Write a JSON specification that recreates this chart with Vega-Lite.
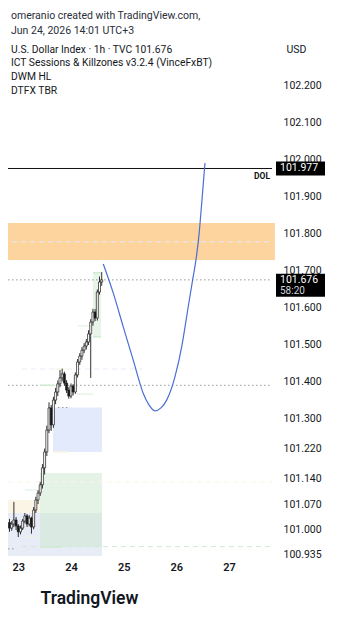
{
  "$schema": "https://vega.github.io/schema/vega-lite/v6.json",
  "width": 264,
  "height": 518,
  "autosize": {"type": "none"},
  "padding": {"left": 8, "top": 38, "right": 66, "bottom": 69},
  "background": "white",
  "config": {"view": {"stroke": null}, "font": "Roboto", "axis": {"labelOverlap": false, "labelBound": false}},
  "title": {
    "text": ["omeranio created with TradingView.com,", "Jun 24, 2026 14:01 UTC+3"],
    "subtitle": ["U.S. Dollar Index · 1h · TVC  101.676", "ICT Sessions & Killzones v3.2.4 (VinceFxBT)", "DWM HL", "DTFX TBR"],
    "anchor": "start",
    "frame": "group",
    "orient": "top",
    "offset": -58,
    "dx": 3,
    "fontSize": 10.5,
    "fontWeight": "normal",
    "color": "#2a2e39",
    "lineHeight": 15,
    "subtitleFontSize": 10.3,
    "subtitleColor": "#131722",
    "subtitleLineHeight": 13.7,
    "subtitlePadding": 8
  },
  "datasets": {
    "candles": [
      {"t": 22.8333, "o": 101.020, "h": 101.030, "l": 100.995, "c": 101.005},
      {"t": 22.8750, "o": 101.005, "h": 101.024, "l": 100.998, "c": 101.016},
      {"t": 22.9167, "o": 101.016, "h": 101.076, "l": 101.008, "c": 101.027},
      {"t": 22.9583, "o": 101.027, "h": 101.035, "l": 101.000, "c": 101.011},
      {"t": 23.0000, "o": 101.011, "h": 101.016, "l": 100.981, "c": 100.995},
      {"t": 23.0417, "o": 100.995, "h": 101.012, "l": 100.988, "c": 101.005},
      {"t": 23.0833, "o": 101.005, "h": 101.030, "l": 101.000, "c": 101.024},
      {"t": 23.1250, "o": 101.024, "h": 101.046, "l": 101.018, "c": 101.038},
      {"t": 23.1667, "o": 101.038, "h": 101.043, "l": 101.008, "c": 101.016},
      {"t": 23.2083, "o": 101.016, "h": 101.040, "l": 101.010, "c": 101.032},
      {"t": 23.2500, "o": 101.032, "h": 101.036, "l": 100.990, "c": 101.008},
      {"t": 23.2917, "o": 101.008, "h": 101.062, "l": 101.002, "c": 101.054},
      {"t": 23.3333, "o": 101.054, "h": 101.090, "l": 101.046, "c": 101.081},
      {"t": 23.3750, "o": 101.081, "h": 101.108, "l": 101.070, "c": 101.100},
      {"t": 23.4167, "o": 101.100, "h": 101.130, "l": 101.092, "c": 101.122},
      {"t": 23.4583, "o": 101.122, "h": 101.178, "l": 101.112, "c": 101.168},
      {"t": 23.5000, "o": 101.168, "h": 101.220, "l": 101.150, "c": 101.211},
      {"t": 23.5417, "o": 101.211, "h": 101.282, "l": 101.200, "c": 101.270},
      {"t": 23.5833, "o": 101.270, "h": 101.345, "l": 101.262, "c": 101.330},
      {"t": 23.6250, "o": 101.330, "h": 101.338, "l": 101.268, "c": 101.284},
      {"t": 23.6667, "o": 101.284, "h": 101.360, "l": 101.276, "c": 101.351},
      {"t": 23.7083, "o": 101.351, "h": 101.384, "l": 101.340, "c": 101.373},
      {"t": 23.7500, "o": 101.373, "h": 101.404, "l": 101.362, "c": 101.395},
      {"t": 23.7917, "o": 101.395, "h": 101.432, "l": 101.386, "c": 101.411},
      {"t": 23.8333, "o": 101.411, "h": 101.436, "l": 101.402, "c": 101.422},
      {"t": 23.8750, "o": 101.422, "h": 101.428, "l": 101.390, "c": 101.397},
      {"t": 23.9167, "o": 101.397, "h": 101.405, "l": 101.370, "c": 101.378},
      {"t": 23.9583, "o": 101.378, "h": 101.386, "l": 101.355, "c": 101.362},
      {"t": 24.0000, "o": 101.362, "h": 101.396, "l": 101.356, "c": 101.389},
      {"t": 24.0417, "o": 101.389, "h": 101.394, "l": 101.364, "c": 101.373},
      {"t": 24.0833, "o": 101.373, "h": 101.426, "l": 101.368, "c": 101.419},
      {"t": 24.1250, "o": 101.419, "h": 101.462, "l": 101.412, "c": 101.454},
      {"t": 24.1667, "o": 101.454, "h": 101.478, "l": 101.446, "c": 101.470},
      {"t": 24.2083, "o": 101.470, "h": 101.494, "l": 101.460, "c": 101.486},
      {"t": 24.2500, "o": 101.486, "h": 101.505, "l": 101.478, "c": 101.497},
      {"t": 24.2917, "o": 101.497, "h": 101.516, "l": 101.488, "c": 101.508},
      {"t": 24.3333, "o": 101.508, "h": 101.540, "l": 101.500, "c": 101.530},
      {"t": 24.3750, "o": 101.530, "h": 101.570, "l": 101.411, "c": 101.562},
      {"t": 24.4167, "o": 101.562, "h": 101.598, "l": 101.552, "c": 101.589},
      {"t": 24.4583, "o": 101.589, "h": 101.597, "l": 101.565, "c": 101.573},
      {"t": 24.5000, "o": 101.573, "h": 101.650, "l": 101.566, "c": 101.643},
      {"t": 24.5417, "o": 101.643, "h": 101.685, "l": 101.636, "c": 101.670},
      {"t": 24.5833, "o": 101.670, "h": 101.697, "l": 101.660, "c": 101.676}
    ],
    "zones": [
      {"x1": 22.805, "x2": 24.588, "p1": 100.930, "p2": 101.046, "kind": "asia"},
      {"x1": 22.805, "x2": 23.412, "p1": 101.046, "p2": 101.081, "kind": "cream"},
      {"x1": 23.412, "x2": 24.588, "p1": 100.954, "p2": 101.154, "kind": "ob"},
      {"x1": 23.658, "x2": 24.588, "p1": 101.211, "p2": 101.331, "kind": "fvg"},
      {"x1": 24.417, "x2": 24.569, "p1": 101.522, "p2": 101.695, "kind": "tbr"},
      {"x1": 22.805, "x2": 27.870, "p1": 101.730, "p2": 101.830, "kind": "dol"}
    ],
    "dotted": [
      {"x1": 22.805, "x2": 27.815, "p": 101.676},
      {"x1": 22.805, "x2": 27.815, "p": 101.391},
      {"x1": 22.805, "x2": 22.950, "p": 100.949},
      {"x1": 23.753, "x2": 23.981, "p": 101.331}
    ],
    "dashed": [
      {"x1": 23.070, "x2": 25.347, "p": 101.435, "kind": "grey"},
      {"x1": 22.805, "x2": 27.815, "p": 101.130, "kind": "purple"},
      {"x1": 23.070, "x2": 27.815, "p": 100.955, "kind": "green"},
      {"x1": 22.880, "x2": 27.815, "p": 101.779, "kind": "black"}
    ],
    "solid": [
      {"x1": 22.805, "x2": 22.937, "p": 101.078, "kind": "purple"},
      {"x1": 23.127, "x2": 23.355, "p": 101.108, "kind": "orange"},
      {"x1": 23.127, "x2": 23.355, "p": 100.982, "kind": "orange"},
      {"x1": 23.412, "x2": 23.829, "p": 100.954, "kind": "green"},
      {"x1": 23.412, "x2": 23.696, "p": 101.391, "kind": "green"},
      {"x1": 23.696, "x2": 23.943, "p": 101.435, "kind": "purple"},
      {"x1": 23.658, "x2": 23.943, "p": 101.211, "kind": "purple"},
      {"x1": 24.114, "x2": 24.417, "p": 101.367, "kind": "orange"},
      {"x1": 24.133, "x2": 24.398, "p": 101.552, "kind": "orange"},
      {"x1": 24.417, "x2": 24.569, "p": 101.522, "kind": "green"},
      {"x1": 24.417, "x2": 24.569, "p": 101.695, "kind": "green"}
    ],
    "curve": [
      {"t": 24.613, "p": 101.719},
      {"t": 24.803, "p": 101.640},
      {"t": 24.992, "p": 101.549},
      {"t": 25.182, "p": 101.459},
      {"t": 25.372, "p": 101.369},
      {"t": 25.480, "p": 101.338},
      {"t": 25.594, "p": 101.322},
      {"t": 25.708, "p": 101.330},
      {"t": 25.816, "p": 101.351},
      {"t": 25.973, "p": 101.414},
      {"t": 26.101, "p": 101.495},
      {"t": 26.226, "p": 101.604},
      {"t": 26.309, "p": 101.676},
      {"t": 26.372, "p": 101.730},
      {"t": 26.429, "p": 101.797},
      {"t": 26.486, "p": 101.892},
      {"t": 26.543, "p": 101.992}
    ]
  },
  "layer": [
    {
      "data": {"name": "zones"},
      "mark": {"type": "rect", "clip": false},
      "encoding": {
        "x": {"field": "x1", "type": "quantitative", "scale": {"domain": [22.805, 27.815], "nice": false, "zero": false, "padding": 0},
          "axis": {"values": [23, 24, 25, 26, 27], "tickCount": 10, "format": "d", "title": "TradingView", "domain": false, "ticks": false, "grid": false,
            "labelFlush": false, "labelPadding": 5, "labelFontSize": 11, "labelFontWeight": 600, "labelColor": "#131722",
            "titleAnchor": "start", "titleAlign": "left", "titleX": 32, "titleY": 42, "titleBaseline": "middle",
            "titleFontSize": 17.5, "titleFontWeight": 600, "titleColor": "#131722"}},
        "x2": {"field": "x2"},
        "y": {"field": "p1", "type": "quantitative", "scale": {"domain": [100.9297, 102.3297], "nice": false, "zero": false, "padding": 0},
          "axis": {"orient": "right", "values": [100.935, 101.0, 101.07, 101.14, 101.22, 101.3, 101.4, 101.5, 101.6, 101.7, 101.8, 101.9, 102.0, 102.1, 102.2],
            "tickCount": 30, "format": ".3f", "domain": false, "ticks": false, "grid": false, "labelFlush": false, "labelOverlap": false, "labelBound": false,
            "labelPadding": 11, "labelFontSize": 10.5, "labelColor": "#131722",
            "title": "USD", "titleAngle": 0, "titleAlign": "left", "titleBaseline": "middle", "titleX": 14, "titleY": 11,
            "titleFontSize": 10.5, "titleFontWeight": "normal", "titleColor": "#131722"}},
        "y2": {"field": "p2"},
        "color": {"field": "kind", "type": "nominal", "legend": null,
          "scale": {"domain": ["asia", "cream", "ob", "fvg", "tbr", "dol"], "range": ["#e7ecf7", "#fbf5e6", "#cfead2", "#e2eafb", "#e6f5e7", "#fdd49e"]}},
        "opacity": {"condition": {"test": "datum.kind == 'ob'", "value": 0.55}, "value": 1}
      }
    },
    {
      "data": {"name": "dotted"},
      "mark": {"type": "rule", "strokeDash": [1.5, 2.5], "strokeWidth": 1, "color": "#9598a1"},
      "encoding": {
        "x": {"field": "x1", "type": "quantitative", "scale": {"domain": [22.805, 27.815], "nice": false, "zero": false, "padding": 0}},
        "x2": {"field": "x2"},
        "y": {"field": "p", "type": "quantitative", "scale": {"domain": [100.9297, 102.3297], "nice": false, "zero": false, "padding": 0}}
      }
    },
    {
      "data": {"name": "dashed"},
      "mark": {"type": "rule", "strokeDash": [5, 4], "strokeWidth": 1},
      "encoding": {
        "x": {"field": "x1", "type": "quantitative", "scale": {"domain": [22.805, 27.815], "nice": false, "zero": false, "padding": 0}},
        "x2": {"field": "x2"},
        "y": {"field": "p", "type": "quantitative", "scale": {"domain": [100.9297, 102.3297], "nice": false, "zero": false, "padding": 0}},
        "color": {"field": "kind", "type": "nominal", "legend": null,
          "scale": {"domain": ["grey", "purple", "green", "black"], "range": ["#8a8d94", "#7473d6", "#7fa8a0", "#111111"]}}
      }
    },
    {
      "data": {"name": "solid"},
      "mark": {"type": "rule", "strokeWidth": 1.5},
      "encoding": {
        "x": {"field": "x1", "type": "quantitative", "scale": {"domain": [22.805, 27.815], "nice": false, "zero": false, "padding": 0}},
        "x2": {"field": "x2"},
        "y": {"field": "p", "type": "quantitative", "scale": {"domain": [100.9297, 102.3297], "nice": false, "zero": false, "padding": 0}},
        "color": {"field": "kind", "type": "nominal", "legend": null,
          "scale": {"domain": ["purple", "orange", "green"], "range": ["#9c3bbd", "#f0b94e", "#3db574"]}}
      }
    },
    {
      "data": {"values": [{"p": 101.977, "name": "DOL"}]},
      "mark": {"type": "rule", "strokeWidth": 1, "color": "#111111"},
      "encoding": {
        "y": {"field": "p", "type": "quantitative", "scale": {"domain": [100.9297, 102.3297], "nice": false, "zero": false, "padding": 0}}
      }
    },
    {
      "data": {"values": [{"p": 101.977, "name": "DOL"}]},
      "mark": {"type": "text", "align": "right", "baseline": "middle", "dx": -2, "dy": 8, "fontSize": 8.5, "fontWeight": "bold", "color": "#111111", "clip": false},
      "encoding": {
        "x": {"value": {"expr": "width"}},
        "y": {"field": "p", "type": "quantitative", "scale": {"domain": [100.9297, 102.3297], "nice": false, "zero": false, "padding": 0}},
        "text": {"field": "name"}
      }
    },
    {
      "data": {"name": "curve"},
      "mark": {"type": "line", "interpolate": "monotone", "color": "#4a6fd4", "strokeWidth": 1.2},
      "encoding": {
        "x": {"field": "t", "type": "quantitative", "scale": {"domain": [22.805, 27.815], "nice": false, "zero": false, "padding": 0}},
        "y": {"field": "p", "type": "quantitative", "scale": {"domain": [100.9297, 102.3297], "nice": false, "zero": false, "padding": 0}},
        "order": {"field": "t"}
      }
    },
    {
      "data": {"name": "candles"},
      "mark": {"type": "rule", "color": "#1a1a1a", "strokeWidth": 0.9},
      "encoding": {
        "x": {"field": "t", "type": "quantitative", "scale": {"domain": [22.805, 27.815], "nice": false, "zero": false, "padding": 0}},
        "y": {"field": "l", "type": "quantitative", "scale": {"domain": [100.9297, 102.3297], "nice": false, "zero": false, "padding": 0}},
        "y2": {"field": "h"}
      }
    },
    {
      "data": {"name": "candles"},
      "mark": {"type": "bar", "width": 2, "stroke": "#1a1a1a", "strokeWidth": 0.7},
      "encoding": {
        "x": {"field": "t", "type": "quantitative", "scale": {"domain": [22.805, 27.815], "nice": false, "zero": false, "padding": 0}},
        "y": {"field": "o", "type": "quantitative", "scale": {"domain": [100.9297, 102.3297], "nice": false, "zero": false, "padding": 0}},
        "y2": {"field": "c"},
        "fill": {"condition": {"test": "datum.c >= datum.o", "value": "#ffffff"}, "value": "#1a1a1a"}
      }
    },
    {
      "data": {"values": [{"p": 101.977, "label": "101.977"}]},
      "mark": {"type": "rect", "color": "#000000", "clip": false, "yOffset": -7, "y2Offset": 7},
      "encoding": {
        "x": {"value": {"expr": "width + 4"}},
        "x2": {"value": {"expr": "width + 53"}},
        "y": {"field": "p", "type": "quantitative", "scale": {"domain": [100.9297, 102.3297], "nice": false, "zero": false, "padding": 0}},
        "y2": {"field": "p"}
      }
    },
    {
      "data": {"values": [{"p": 101.676, "label": "101.676", "timer": "58:20"}]},
      "mark": {"type": "rect", "color": "#000000", "clip": false, "yOffset": -6, "y2Offset": 17},
      "encoding": {
        "x": {"value": {"expr": "width + 4"}},
        "x2": {"value": {"expr": "width + 53"}},
        "y": {"field": "p", "type": "quantitative", "scale": {"domain": [100.9297, 102.3297], "nice": false, "zero": false, "padding": 0}},
        "y2": {"field": "p"}
      }
    },
    {
      "data": {"values": [{"p": 101.977, "label": "101.977"}, {"p": 101.676, "label": "101.676"}]},
      "mark": {"type": "text", "align": "left", "baseline": "middle", "fontSize": 10.5, "color": "#ffffff", "clip": false},
      "encoding": {
        "x": {"value": {"expr": "width + 8"}},
        "y": {"field": "p", "type": "quantitative", "scale": {"domain": [100.9297, 102.3297], "nice": false, "zero": false, "padding": 0}},
        "text": {"field": "label"}
      }
    },
    {
      "data": {"values": [{"p": 101.676, "timer": "58:20"}]},
      "mark": {"type": "text", "align": "left", "baseline": "middle", "fontSize": 10, "color": "#d1d4dc", "clip": false, "dy": 11},
      "encoding": {
        "x": {"value": {"expr": "width + 8"}},
        "y": {"field": "p", "type": "quantitative", "scale": {"domain": [100.9297, 102.3297], "nice": false, "zero": false, "padding": 0}},
        "text": {"field": "timer"}
      }
    }
  ]
}
